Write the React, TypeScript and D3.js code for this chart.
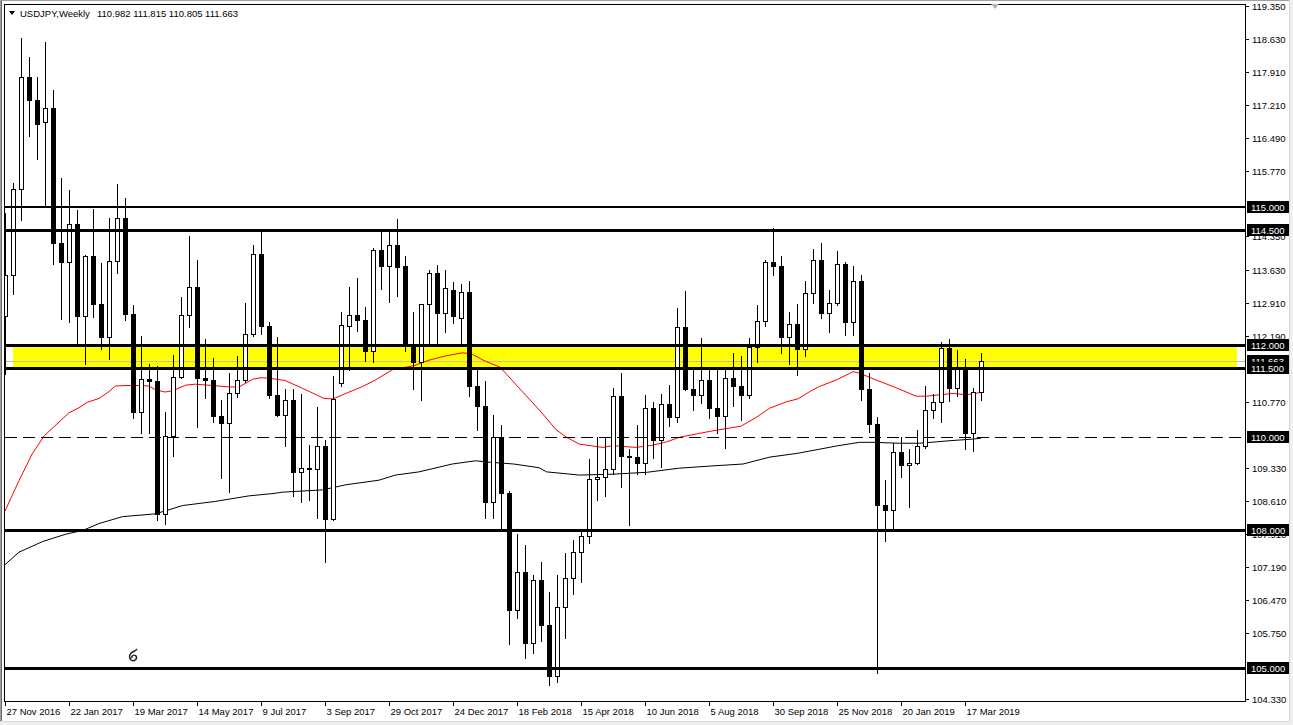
import React from "react";
import * as d3 from "d3";

// ---- weekly USDJPY candles (bar index 0 = week of 27 Nov 2016) ----
const opens = [
  112.63, 113.51, 115.39, 117.8, 117.3, 116.84, 117.13, 114.21, 113.8, 114.63,
  112.63, 113.92, 112.89, 112.17, 113.82, 114.75, 112.66, 110.55, 111.27, 111.22,
  108.33, 110.03, 111.31, 112.65, 113.26, 111.28, 111.23, 110.45, 110.3, 110.96,
  111.23, 112.23, 113.98, 112.4, 110.92, 110.48, 110.81, 109.24, 109.33, 109.31,
  109.8, 108.23, 111.18, 112.42, 112.65, 112.53, 111.86, 114.06, 113.7, 114.17,
  113.7, 112.0, 111.64, 112.88, 113.56, 112.7, 113.2, 112.58, 113.15, 111.12,
  110.67, 108.59, 110.01, 108.79, 106.25, 107.08, 105.55, 106.91, 105.94, 104.83,
  106.32, 106.95, 107.51, 107.87, 109.09, 109.14, 109.31, 110.9, 109.6, 109.58,
  109.45, 110.64, 109.93, 110.72, 110.43, 112.38, 111.05, 110.92, 111.25, 110.64,
  110.47, 111.28, 111.12, 110.91, 111.95, 112.52, 113.8, 113.7, 112.18, 112.45,
  111.91, 113.13, 113.83, 112.7, 112.9, 113.75, 112.5, 113.39, 111.05, 110.29,
  108.54, 108.43, 109.68, 109.39, 109.44, 109.81, 110.58, 110.76, 111.93, 111.07,
  111.53, 110.09, 110.982,
];
const highs = [
  114.86, 115.52, 118.65, 118.23, 117.8, 118.57, 117.52, 115.62, 115.35, 114.92,
  113.95, 114.94, 113.78, 114.75, 115.48, 115.19, 112.87, 112.19, 111.58, 111.55,
  110.54, 111.79, 113.04, 114.36, 113.85, 112.12, 111.71, 110.81, 111.4, 111.77,
  112.9, 114.17, 114.48, 112.5, 112.18, 111.05, 111.05, 110.94, 109.83, 110.66,
  109.93, 111.33, 112.72, 113.26, 113.44, 112.82, 114.1, 114.46, 114.46, 114.73,
  113.92, 112.72, 112.88, 113.63, 113.74, 113.63, 113.37, 113.31, 113.39, 111.46,
  111.21, 110.48, 110.26, 108.83, 107.9, 107.66, 107.02, 107.29, 106.64, 107.02,
  107.49, 107.77, 107.97, 109.53, 110.01, 110.01, 111.07, 111.4, 109.75, 110.26,
  110.91, 110.76, 110.94, 111.14, 112.79, 113.17, 111.53, 112.15, 111.46, 111.46,
  111.48, 111.82, 111.76, 112.15, 112.86, 113.85, 114.53, 113.93, 112.71, 112.89,
  113.39, 114.08, 114.21, 113.18, 114.04, 113.79, 113.72, 113.52, 111.39, 110.44,
  109.08, 109.87, 110.0, 109.74, 110.16, 111.12, 110.94, 112.06, 112.13, 111.89,
  111.69, 111.07, 111.815,
];
const lows = [
  111.38, 113.11, 114.71, 116.53, 116.02, 115.03, 113.75, 112.56, 112.5, 112.0,
  111.58, 112.6, 111.92, 111.69, 113.55, 112.54, 110.41, 110.1, 110.1, 108.21,
  108.12, 109.59, 111.29, 112.39, 110.22, 110.84, 110.33, 109.12, 108.82, 110.88,
  111.19, 112.19, 112.23, 110.85, 110.46, 109.81, 108.72, 108.59, 108.63, 108.25,
  107.3, 108.21, 111.1, 111.45, 112.31, 111.66, 111.64, 113.21, 112.94, 113.07,
  111.86, 111.05, 110.81, 112.0, 112.0, 112.29, 112.47, 112.0, 110.9, 110.16,
  108.26, 108.26, 108.04, 105.53, 106.08, 105.22, 105.33, 105.59, 104.63, 104.7,
  105.64, 106.6, 106.87, 107.71, 108.63, 108.73, 109.21, 108.93, 108.09, 109.21,
  109.21, 109.55, 109.35, 110.25, 110.34, 111.02, 110.58, 110.74, 110.41, 110.09,
  109.76, 110.67, 110.37, 110.84, 111.64, 112.42, 113.51, 111.82, 111.59, 111.35,
  111.75, 112.91, 112.59, 112.29, 112.86, 112.22, 112.22, 110.8, 110.12, 104.89,
  107.76, 108.04, 109.14, 108.49, 109.42, 109.76, 110.42, 110.34, 110.78, 110.89,
  109.74, 109.71, 110.805,
];
const closes = [
  113.51, 115.39, 117.8, 117.3, 116.78, 117.13, 114.21, 113.8, 114.63, 112.63,
  113.92, 112.89, 112.17, 113.82, 114.75, 112.66, 110.55, 111.27, 111.22, 108.33,
  110.03, 111.31, 112.65, 113.26, 111.28, 111.23, 110.45, 110.3, 110.96, 111.23,
  112.23, 113.98, 112.4, 110.92, 110.48, 110.81, 109.24, 109.33, 109.31, 109.8,
  108.23, 110.83, 112.43, 112.65, 112.53, 111.86, 114.06, 113.7, 114.17, 113.68,
  112.0, 111.64, 112.88, 113.56, 112.7, 113.24, 112.63, 113.15, 111.12, 110.67,
  108.59, 110.01, 108.79, 106.25, 107.08, 105.55, 106.91, 105.94, 104.83, 106.32,
  106.95, 107.51, 107.87, 109.09, 109.14, 109.31, 110.9, 109.6, 109.58, 109.45,
  110.64, 109.93, 110.72, 110.43, 112.38, 111.05, 110.92, 111.25, 110.64, 110.47,
  111.28, 111.12, 110.91, 111.95, 112.52, 113.8, 113.7, 112.18, 112.45, 111.91,
  113.13, 113.83, 112.7, 112.9, 113.75, 112.5, 113.39, 111.05, 110.29, 108.54,
  108.43, 109.68, 109.39, 109.44, 109.81, 110.58, 110.76, 111.93, 111.07, 111.53,
  110.09, 110.98, 111.663,
];

// ---- moving averages (bar position, price) ----
const redMaBars = [
  0, 1.75, 3.4, 4.9, 6.75, 8, 9.25, 10.3, 11.75, 13, 13.8, 15, 16.75, 18, 18.8, 20, 21, 22.6,
  23.8, 26, 28, 29.25, 31, 32, 33, 35, 37.2, 39.9, 41, 42.2, 44.7, 46.3, 48.4, 51.1, 53, 55,
  57.2, 58.4, 60, 61.75, 62.2, 64.5, 66.8, 68.9, 70.2, 71.8, 74.75, 76, 77.25, 78.9, 81, 82.7,
  84.3, 86.4, 88.5, 90.6, 92, 93.9, 95.6, 97.7, 99.1, 100.6, 101.8, 103.9, 106, 106.8, 108.9,
  111, 113.9, 115.2, 118.5, 120.2, 122,
];
const redMaValues = [
  108.4, 109.06, 109.64, 110.03, 110.33, 110.53, 110.64, 110.76, 110.84, 110.99, 111.11, 111.12,
  111.12, 111.11, 111.03, 110.98, 111.01, 111.13, 111.15, 111.12, 111.09, 111.09, 111.26, 111.29,
  111.28, 111.23, 111.06, 110.84, 110.83, 110.92, 111.1, 111.24, 111.46, 111.55, 111.67, 111.76,
  111.83, 111.8, 111.65, 111.53, 111.46, 111.02, 110.59, 110.16, 110.0, 109.85, 109.78, 109.82,
  109.8, 109.78, 109.83, 109.9, 110.0, 110.07, 110.14, 110.2, 110.24, 110.43, 110.63, 110.77,
  110.83, 110.99, 111.1, 111.24, 111.42, 111.39, 111.24, 111.1, 110.89, 110.89, 110.95, 110.92,
  110.97,
];
const blackMaBars = [
  0, 1.75, 4.7, 7.6, 9.7, 11.75, 14.7, 18.8, 22.2, 26.3, 30.5, 33.5, 34.7, 39.7, 42.6, 46.75,
  48.8, 51.75, 55.9, 58.8, 60.5, 63.6, 66.75, 67.7, 71.8, 76, 80.2, 84.3, 88.5, 92.25, 95.6, 99,
  101.8, 103.9, 106.8, 108.5, 111.8, 114.3, 116.4, 118.5, 121, 122,
];
const blackMaValues = [
  107.24, 107.51, 107.74, 107.9, 107.98, 108.13, 108.28, 108.34, 108.52, 108.61, 108.73, 108.78,
  108.81, 108.86, 108.97, 109.07, 109.18, 109.25, 109.42, 109.49, 109.46, 109.42, 109.34, 109.25,
  109.18, 109.2, 109.24, 109.33, 109.38, 109.42, 109.57, 109.65, 109.74, 109.81, 109.89, 109.89,
  109.87, 109.87, 109.9, 109.93, 109.96, 109.98,
];

// ---- drawn objects ----
const solidLevels = [115.0, 114.5, 112.0, 111.5, 108.0, 105.0];
const dashedLevel = 110.0;
const zoneTop = 112.0;
const zoneBottom = 111.5;
const zoneFromBar = 1;
const zoneToBar = 154;
const bidPrice = 111.663;

// ---- axes ----
const priceTickLabels = [
  "119.350", "118.630", "117.910", "117.210", "116.490", "115.770", "114.350", "113.630",
  "112.910", "112.190", "110.770", "109.330", "108.610", "107.910", "107.190", "106.470",
  "105.750", "104.330",
];
const boxedPrices = [115.0, 114.5, 112.0, 111.663, 111.5, 110.0, 108.0, 105.0];
const dateTickBars = [0, 8, 16, 24, 32, 40, 48, 56, 64, 72, 80, 88, 96, 104, 112, 120];
const dateTickLabels = [
  "27 Nov 2016", "22 Jan 2017", "19 Mar 2017", "14 May 2017", "9 Jul 2017", "3 Sep 2017",
  "29 Oct 2017", "24 Dec 2017", "18 Feb 2018", "15 Apr 2018", "10 Jun 2018", "5 Aug 2018",
  "30 Sep 2018", "25 Nov 2018", "20 Jan 2019", "17 Mar 2019",
];
const symbolTitle = "USDJPY,Weekly";
const headerOHLC = ["110.982", "111.815", "110.805", "111.663"];

const FONT = "'Liberation Sans', Arial, sans-serif";

export default function App() {
  const W = 1293;
  const H = 725;
  const plotL = 5;
  const plotR = 1245;
  const plotT = 4;
  const plotB = 701;

  const x = d3.scaleLinear().domain([0, 122]).range([5, 981]);
  const y = d3.scaleLinear().domain([105, 115]).range([668, 206.5]);

  const candles = closes.map((c, i) => ({ i, o: opens[i], h: highs[i], l: lows[i], c }));

  const redPts = redMaBars.map((b, k) => [b, redMaValues[k]] as [number, number]);
  const blackPts = blackMaBars.map((b, k) => [b, blackMaValues[k]] as [number, number]);
  const maLine = d3
    .line<[number, number]>()
    .x((d) => x(d[0]))
    .y((d) => y(d[1]));

  return (
    <div style={{ position: "absolute", left: 0, top: 0 }}>
      <svg width={W} height={H} style={{ display: "block" }}>
        <defs>
          <clipPath id="plotclip">
            <rect x={plotL} y={plotT} width={plotR - plotL} height={plotB - plotT} />
          </clipPath>
        </defs>
        <rect x={0} y={0} width={W} height={H} fill="#f0f0f0" />
        <rect x={0} y={0} width={1290} height={722} fill="#ffffff" />
        <line x1={0.5} y1={0} x2={0.5} y2={722} stroke="#a0a0a0" />
        <line x1={1.5} y1={0} x2={1.5} y2={722} stroke="#696969" />
        <line x1={0} y1={0.5} x2={1290} y2={0.5} stroke="#a0a0a0" />
        <line x1={1289.5} y1={0} x2={1289.5} y2={722} stroke="#d8d8d8" />
        <line x1={0} y1={721.5} x2={1290} y2={721.5} stroke="#d8d8d8" />

        <g clipPath="url(#plotclip)">
          {/* yellow zone */}
          <rect
            x={x(zoneFromBar)}
            y={y(zoneTop)}
            width={x(zoneToBar) - x(zoneFromBar)}
            height={y(zoneBottom) - y(zoneTop)}
            fill="#ffff00"
          />
          {/* bid line */}
          <line
            x1={plotL}
            x2={plotR}
            y1={Math.round(y(bidPrice)) + 0.5}
            y2={Math.round(y(bidPrice)) + 0.5}
            stroke="#c0c0c0"
          />
          {/* moving averages */}
          <path d={maLine(blackPts) || ""} fill="none" stroke="#000000" strokeWidth={1} />
          <path d={maLine(redPts) || ""} fill="none" stroke="#ff0000" strokeWidth={1} />

          {/* candles */}
          {candles.map((d) => {
            const xi = Math.round(x(d.i));
            const yh = Math.round(y(d.h));
            const yl = Math.round(y(d.l));
            const top = Math.round(y(Math.max(d.o, d.c)));
            const bot = Math.round(y(Math.min(d.o, d.c)));
            const bull = d.c >= d.o;
            return (
              <g key={d.i}>
                <line x1={xi + 0.5} x2={xi + 0.5} y1={yh} y2={yl + 1} stroke="#000" strokeWidth={1} />
                {bull ? (
                  <rect
                    x={xi - 1.5}
                    y={top + 0.5}
                    width={4}
                    height={Math.max(1, bot - top)}
                    fill="#ffffff"
                    stroke="#000"
                    strokeWidth={1}
                  />
                ) : (
                  <rect x={xi - 2} y={top} width={5} height={Math.max(2, bot - top + 1)} fill="#000" />
                )}
              </g>
            );
          })}

          {/* horizontal levels */}
          {solidLevels.map((p) => (
            <line
              key={p}
              x1={plotL}
              x2={plotR}
              y1={Math.round(y(p)) + (p === 115 ? 0 : 0.5)}
              y2={Math.round(y(p)) + (p === 115 ? 0 : 0.5)}
              stroke="#000"
              strokeWidth={p === 115 ? 2 : 3}
            />
          ))}
          <line
            x1={plotL}
            x2={plotR}
            y1={Math.round(y(dashedLevel)) + 0.5}
            y2={Math.round(y(dashedLevel)) + 0.5}
            stroke="#000"
            strokeWidth={1}
            strokeDasharray="12,6"
          />

          {/* small logo */}
          <g transform="translate(133,656)" fill="none" stroke="#222" strokeWidth={1.4}>
            <path d="M2,-5 C-3,-4 -5,1 -2,4 C1,6 5,3 3,0 C1,-2 -2,0 -1,2" />
            <path d="M2,-5 L4,-7" />
          </g>
        </g>

        {/* plot frame */}
        <rect
          x={plotL - 0.5}
          y={plotT + 0.5}
          width={plotR - plotL + 1}
          height={plotB - plotT}
          fill="none"
          stroke="#000"
          strokeWidth={1}
        />

        {/* header */}
        <polygon points="9,11 15,11 12,15" fill="#000" />
        <text x={20} y={17} fontFamily={FONT} fontSize={9.5} fill="#000">
          {symbolTitle}
        </text>
        <text x={97} y={17} fontFamily={FONT} fontSize={9.5} fill="#000">
          {headerOHLC.join(" ")}
        </text>
        <polygon points="991,4 999,4 995,9" fill="#b4b4b4" />

        {/* price axis */}
        {priceTickLabels.map((t) => {
          const v = parseFloat(t);
          const yy = Math.round(y(v)) + 0.5;
          return (
            <g key={t}>
              <line x1={plotR} x2={plotR + 4} y1={yy} y2={yy} stroke="#000" />
              <text x={1252} y={yy + 3.5} fontFamily={FONT} fontSize={9.5} fill="#000">
                {t}
              </text>
            </g>
          );
        })}
        {boxedPrices.map((p) => {
          const yy = Math.round(y(p));
          return (
            <g key={"b" + p}>
              <rect x={1247} y={yy - 6} width={42} height={12} fill="#000" />
              <text x={1251} y={yy + 3.5} fontFamily={FONT} fontSize={9.5} fill="#ffffff">
                {p.toFixed(3)}
              </text>
            </g>
          );
        })}

        {/* time axis */}
        {dateTickBars.map((b, k) => {
          const xx = Math.round(x(b)) + 0.5;
          return (
            <g key={"d" + b}>
              <line x1={xx} x2={xx} y1={plotB + 1} y2={plotB + 5} stroke="#000" />
              <text x={xx + 1} y={715} fontFamily={FONT} fontSize={9.5} fill="#000">
                {dateTickLabels[k]}
              </text>
            </g>
          );
        })}
      </svg>
    </div>
  );
}
